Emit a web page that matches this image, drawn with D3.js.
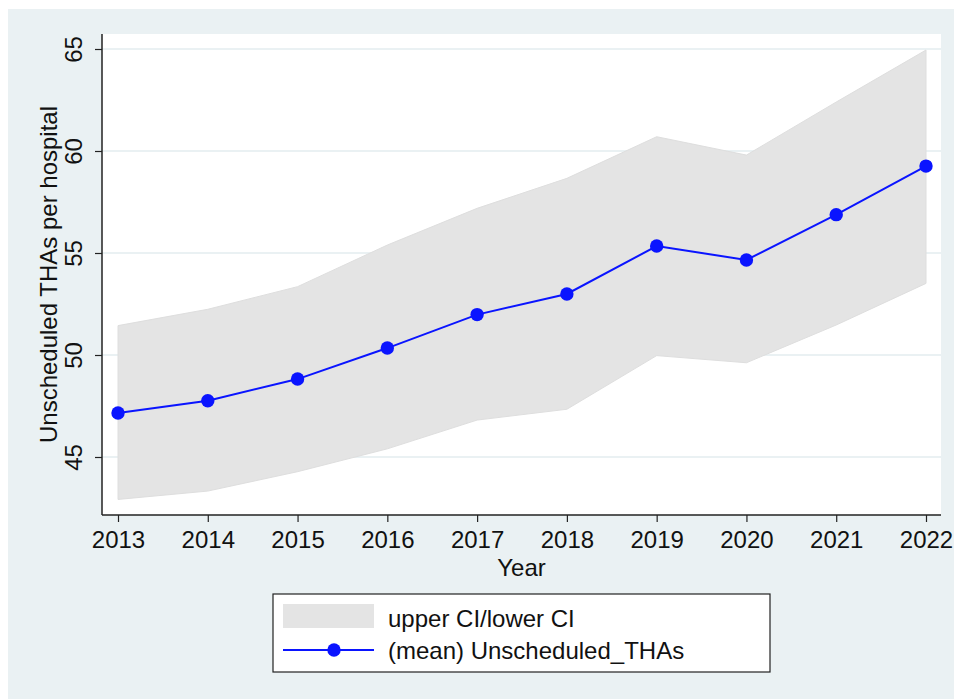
<!DOCTYPE html>
<html>
<head>
<meta charset="utf-8">
<script src="https://cdn.jsdelivr.net/npm/d3@7"></script>
<style>
  body { margin: 0; background: #fff; }
  svg { display: block; font-family: "Liberation Sans", Arial, Helvetica, sans-serif; }
</style>
</head>
<body>
<svg id="chart" width="954" height="699"></svg>
<script>
const years = [2013, 2014, 2015, 2016, 2017, 2018, 2019, 2020, 2021, 2022];
const meanTHAs = [47.16, 47.76, 48.82, 50.34, 51.98, 52.99, 55.34, 54.66, 56.88, 59.26];
const upperCI = [51.44, 52.24, 53.35, 55.39, 57.19, 58.66, 60.7, 59.8, 62.4, 64.95];
const lowerCI = [42.92, 43.33, 44.28, 45.4, 46.81, 47.34, 49.97, 49.62, 51.47, 53.51];
const yTicks = [45, 50, 55, 60, 65];
const legendLabels = ["upper CI/lower CI", "(mean) Unscheduled_THAs"];

const lineColor = "#0a14ff";
const bandColor = "#e4e4e4";
const gridColor = "#eaf1f3";
const fontSize = 24;

const svg = d3.select("#chart");

// outer graph region
svg.append("rect")
  .attr("x", 8).attr("y", 9)
  .attr("width", 946).attr("height", 690)
  .attr("fill", "#eaf1f3");

const plot = { left: 102, right: 941, top: 34, bottom: 515 };

svg.append("rect")
  .attr("x", plot.left).attr("y", plot.top)
  .attr("width", plot.right - plot.left).attr("height", plot.bottom - plot.top)
  .attr("fill", "#fff");

const x = d3.scaleLinear().domain([2013, 2022]).range([118, 926]);
const y = d3.scaleLinear().domain([45, 65]).range([457, 49]);

// gridlines
svg.append("g")
  .selectAll("line")
  .data(yTicks)
  .join("line")
  .attr("x1", plot.left).attr("x2", plot.right)
  .attr("y1", d => y(d)).attr("y2", d => y(d))
  .attr("stroke", gridColor)
  .attr("stroke-width", 2);

const rows = years.map((yr, i) => ({ year: yr, mean: meanTHAs[i], hi: upperCI[i], lo: lowerCI[i] }));

// CI band
svg.append("path")
  .datum(rows)
  .attr("fill", bandColor)
  .attr("stroke", "#dedede")
  .attr("stroke-width", 1)
  .attr("d", d3.area()
    .x(d => x(d.year))
    .y0(d => y(d.lo))
    .y1(d => y(d.hi)));

// mean line + markers
svg.append("path")
  .datum(rows)
  .attr("fill", "none")
  .attr("stroke", lineColor)
  .attr("stroke-width", 2)
  .attr("d", d3.line().x(d => x(d.year)).y(d => y(d.mean)));

svg.append("g")
  .selectAll("circle")
  .data(rows)
  .join("circle")
  .attr("cx", d => x(d.year))
  .attr("cy", d => y(d.mean))
  .attr("r", 6.7)
  .attr("fill", lineColor);

// axes
const xAxis = svg.append("g")
  .attr("transform", `translate(0, ${plot.bottom})`)
  .call(d3.axisBottom(x).tickValues(years).tickFormat(d3.format("d")).tickSize(7).tickPadding(9));
xAxis.select(".domain").attr("d", `M${plot.left},0H${plot.right}`).attr("stroke", "#222").attr("stroke-width", 1.5);
xAxis.selectAll(".tick line").attr("stroke", "#222").attr("stroke-width", 1.2);
xAxis.selectAll(".tick text")
  .attr("font-size", fontSize).attr("fill", "#111")
  .attr("font-family", "Liberation Sans, Arial, sans-serif");

const yAxis = svg.append("g")
  .attr("transform", `translate(${plot.left}, 0)`)
  .call(d3.axisLeft(y).tickValues(yTicks).tickSize(7).tickPadding(0));
yAxis.select(".domain").attr("d", `M0,${plot.top}V${plot.bottom}`).attr("stroke", "#222").attr("stroke-width", 1.5);
yAxis.selectAll(".tick line").attr("stroke", "#222").attr("stroke-width", 1.2);
yAxis.selectAll(".tick text")
  .attr("font-size", fontSize).attr("fill", "#111")
  .attr("font-family", "Liberation Sans, Arial, sans-serif")
  .attr("x", null).attr("dy", null)
  .attr("text-anchor", "middle")
  .attr("transform", "translate(-20, 0) rotate(-90)");

// axis titles
svg.append("text")
  .attr("x", (plot.left + plot.right) / 2).attr("y", 576)
  .attr("text-anchor", "middle")
  .attr("font-size", fontSize).attr("fill", "#111")
  .text("Year");

svg.append("text")
  .attr("transform", `translate(57, ${(plot.top + plot.bottom) / 2}) rotate(-90)`)
  .attr("text-anchor", "middle")
  .attr("font-size", fontSize).attr("fill", "#111")
  .text("Unscheduled THAs per hospital");

// legend
const legend = svg.append("g");
legend.append("rect")
  .attr("x", 273).attr("y", 594)
  .attr("width", 497).attr("height", 78)
  .attr("fill", "#fff")
  .attr("stroke", "#222").attr("stroke-width", 1.2);

legend.append("rect")
  .attr("x", 283).attr("y", 604)
  .attr("width", 91).attr("height", 24)
  .attr("fill", bandColor);

legend.append("line")
  .attr("x1", 283).attr("x2", 374)
  .attr("y1", 650).attr("y2", 650)
  .attr("stroke", lineColor).attr("stroke-width", 2);
legend.append("circle")
  .attr("cx", 334).attr("cy", 650).attr("r", 6.7)
  .attr("fill", lineColor);

legend.selectAll("text.lbl")
  .data(legendLabels)
  .join("text")
  .attr("class", "lbl")
  .attr("x", 388)
  .attr("y", (d, i) => 627 + i * 32)
  .attr("font-size", fontSize).attr("fill", "#111")
  .text(d => d);
</script>
</body>
</html>
